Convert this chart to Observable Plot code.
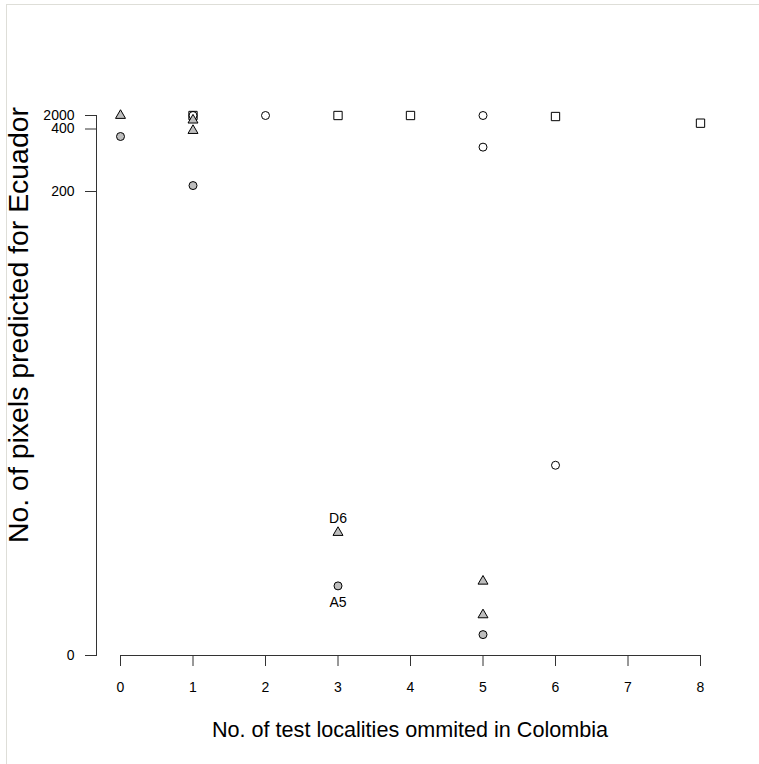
<!DOCTYPE html>
<html><head><meta charset="utf-8">
<script src="https://cdn.jsdelivr.net/npm/d3@7"></script>
<script src="https://cdn.jsdelivr.net/npm/@observablehq/plot@0.6"></script>
<style>html,body{margin:0;padding:0;background:#fff} svg{display:block}</style>
</head><body><div id="chart"></div>
<script>
// Data
const xTicks = [0, 1, 2, 3, 4, 5, 6, 7, 8];
const yTicks = [0, 200, 400, 2000];

const squareX = [1, 3, 4, 6, 8];
const squareY = [2000, 2000, 2000, 1880, 1090];

const openCircleX = [1, 2, 5, 5, 6];
const openCircleY = [2000, 2000, 2000, 342, 82];

const triangleX = [0, 1, 1, 3, 5, 5];
const triangleY = [2000, 1450, 395, 53, 32, 17.5];

const grayCircleX = [0, 1, 3, 5];
const grayCircleY = [376, 219, 30, 9];

const labelText = ["D6", "A5"];
const labelX = [3, 3];
const labelY = [53, 30];

const xTitle = "No. of test localities ommited in Colombia";
const yTitle = "No. of pixels predicted for Ecuador";

// The reference's y axis is a broken (piecewise) scale: tick values 0, 200, 400, 2000
// sit at unequal gaps. Map values onto an axis unit that is linear between those ticks.
const yUnit = d3.scaleLinear().domain(yTicks).range([0, 464, 526.5, 540]);

const zip = (xs, ys) => xs.map((x, i) => ({x, y: yUnit(ys[i])}));
const labels = labelText.map((t, i) => ({text: t, x: labelX[i], y: yUnit(labelY[i])}));

const W = 759, H = 764;
const axisColor = "#333";
const FONT = "'Liberation Sans', Arial, sans-serif";
const TICK_FS = 14;

const plot = Plot.plot({
  width: W, height: H,
  marginLeft: 96, marginRight: 36, marginTop: 115, marginBottom: 109,
  style: {fontFamily: FONT, fontSize: TICK_FS + "px", color: "#000", background: "transparent"},
  x: {domain: [0, 8], range: [120, 700]},
  y: {domain: [0, 540], range: [655, 115]},
  marks: [
    Plot.frame({anchor: "left", stroke: axisColor}),
    Plot.ruleY([yUnit(0)], {x1: 0, x2: 8, stroke: axisColor}),
    Plot.axisY({ticks: yTicks.map(yUnit), tickSize: 11, tickPadding: 11, label: null,
      tickFormat: d => String(Math.round(yUnit.invert(d))), stroke: axisColor, fill: "#000", fontSize: TICK_FS}),
    Plot.axisX({ticks: xTicks, tickSize: 11, tickPadding: 16, label: null, tickFormat: d => String(d),
      stroke: axisColor, fill: "#000", fontSize: TICK_FS}),
    Plot.dot(zip(squareX, squareY), {x: "x", y: "y", symbol: "square", r: 4.7, fill: "none", stroke: "#000", strokeWidth: 1}),
    Plot.dot(zip(openCircleX, openCircleY), {x: "x", y: "y", symbol: "circle", r: 4, fill: "none", stroke: "#000", strokeWidth: 1}),
    Plot.dot(zip(triangleX, triangleY), {x: "x", y: "y", symbol: "triangle", r: 3.7, fill: "#bebebe", stroke: "#000", strokeWidth: 1}),
    Plot.dot(zip(grayCircleX, grayCircleY), {x: "x", y: "y", symbol: "circle", r: 4, fill: "#bebebe", stroke: "#000", strokeWidth: 1}),
    Plot.text(labels.filter(d => d.text === "D6"), {x: "x", y: "y", text: "text", dy: -14, fontSize: TICK_FS, fill: "#000"}),
    Plot.text(labels.filter(d => d.text === "A5"), {x: "x", y: "y", text: "text", dy: 17, fontSize: TICK_FS, fill: "#000"})
  ]
});

const svg = d3.select(plot);
// light frame lines (top and left) seen in the reference
svg.insert("line", ":first-child").attr("x1", 6).attr("x2", W).attr("y1", 4.5).attr("y2", 4.5).attr("stroke", "#deded8");
svg.insert("line", ":first-child").attr("x1", 6.5).attr("x2", 6.5).attr("y1", 4).attr("y2", H).attr("stroke", "#deded8");

svg.append("text")
  .attr("x", 410).attr("y", 731)
  .attr("text-anchor", "middle").attr("dominant-baseline", "middle")
  .attr("font-family", FONT).attr("font-size", 21.6).attr("fill", "#000")
  .text(xTitle);

svg.append("text")
  .attr("transform", "translate(21,325) rotate(-90)")
  .attr("text-anchor", "middle").attr("dominant-baseline", "middle")
  .attr("font-family", FONT).attr("font-size", 28).attr("fill", "#000")
  .attr("textLength", 436).attr("lengthAdjust", "spacingAndGlyphs")
  .text(yTitle);

document.getElementById("chart").appendChild(plot);
</script>
</body></html>
